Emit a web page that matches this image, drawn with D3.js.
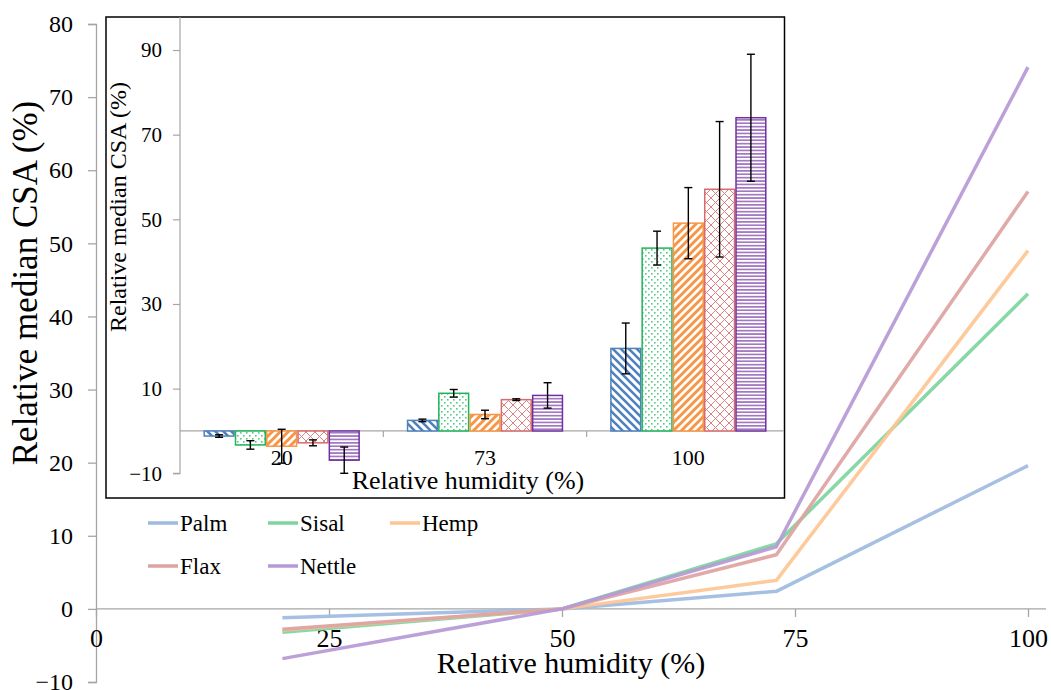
<!DOCTYPE html>
<html>
<head>
<meta charset="utf-8">
<script src="https://cdn.jsdelivr.net/npm/d3@7"></script>
</head>
<body style="margin:0;padding:0;background:#fff">
<svg id="chart" width="1051" height="690" font-family="Liberation Serif" style="display:block"></svg>
<script>
// ---------------- DATA ----------------
const seriesNames = ["Palm", "Sisal", "Hemp", "Flax", "Nettle"];

// Main line chart: relative humidity (%) vs relative median CSA (%)
const humidityLevels = [20, 50, 73, 100];
const palmLine   = [-1.2, 0, 2.4, 19.6];
const sisalLine  = [-3.2, 0, 8.9, 43.1];
const hempLine   = [-2.9, 0, 3.9, 49.0];
const flaxLine   = [-2.8, 0, 7.4, 57.1];
const nettleLine = [-6.8, 0, 8.5, 74.1];

const mainXTicks = [0, 25, 50, 75, 100];
const mainYTicks = [-10, 0, 10, 20, 30, 40, 50, 60, 70, 80];

// Inset bar chart
const insetCategories = ["20", "73", "100"];
const palmBar   = [-1.2, 2.5, 19.5];
const sisalBar  = [-3.3, 8.9, 43.2];
const hempBar   = [-3.6, 3.9, 49.1];
const flaxBar   = [-2.8, 7.4, 57.1];
const nettleBar = [-6.9, 8.4, 74.0];
const palmErr   = [0.3, 0.3, 6.0];
const sisalErr  = [1.0, 0.9, 4.0];
const hempErr   = [4.0, 1.0, 8.4];
const flaxErr   = [0.7, 0.2, 16.0];
const nettleErr = [3.1, 3.0, 15.0];
const insetYTicks = [-10, 10, 30, 50, 70, 90];

// ---------------- STYLE ----------------
const FONT = "Liberation Serif";
const lineColors = ["#9dbbdf", "#7dd4a0", "#fdc592", "#dda3a2", "#b699d6"];
const barColors  = ["#4f81bd", "#1fb45a", "#f79646", "#d96b6b", "#7030a0"];
const axisGray = "#a6a6a6";

const svg = d3.select("#chart");
function serif(sel, size) {
  return sel.attr("font-family", FONT).style("font-family", "'Liberation Serif'")
    .attr("font-size", size).style("font-size", size + "px").attr("fill", "#000");
}

// ---------------- MAIN CHART ----------------
const x = d3.scaleLinear().domain([0, 100]).range([96, 1028]);
const y = d3.scaleLinear().domain([-10, 80]).range([682, 24]);

// y axis
const yAxis = svg.append("g").attr("transform", `translate(${x(0)},0)`)
  .call(d3.axisLeft(y).tickValues(mainYTicks).tickSize(8).tickPadding(15).tickFormat(d3.format("d")));
yAxis.attr("font-family", FONT);
yAxis.select(".domain").attr("stroke", axisGray).attr("stroke-width", 1.3);
yAxis.selectAll(".tick line").attr("stroke", axisGray).attr("stroke-width", 1.3);
serif(yAxis.selectAll(".tick text"), 24);

// x axis at zero
const xAxis = svg.append("g").attr("transform", `translate(0,${y(0)})`)
  .call(d3.axisBottom(x).tickValues(mainXTicks).tickSize(8).tickPadding(12).tickFormat(d3.format("d")));
xAxis.attr("font-family", FONT);
xAxis.select(".domain").attr("stroke", axisGray).attr("stroke-width", 1.3)
  .attr("d", `M${x(0)},0H1046`);
xAxis.selectAll(".tick line").attr("stroke", axisGray).attr("stroke-width", 1.3);
serif(xAxis.selectAll(".tick text"), 26);

// axis titles
serif(svg.append("text").attr("x", 571).attr("y", 673).attr("text-anchor", "middle"), 30)
  .text("Relative humidity (%)");
serif(svg.append("text").attr("transform", "translate(37,283) rotate(-90)").attr("text-anchor", "middle"), 35)
  .text("Relative median CSA (%)");

// lines
const lineSeries = [palmLine, sisalLine, hempLine, flaxLine, nettleLine];
const lineGen = d3.line().x((d, i) => x(humidityLevels[i])).y(d => y(d));
svg.append("g").selectAll("path").data(lineSeries).join("path")
  .attr("d", d => lineGen(d))
  .attr("fill", "none")
  .attr("stroke", (d, i) => lineColors[i])
  .attr("stroke-width", 3.5)
  .attr("stroke-opacity", 0.92)
  .attr("stroke-linejoin", "round");

// legend
const legendPos = [[148, 523], [268, 523], [390, 523], [148, 566], [268, 566]];
const legend = svg.append("g").attr("font-family", FONT);
seriesNames.forEach((name, i) => {
  const [lx, ly] = legendPos[i];
  legend.append("line").attr("x1", lx).attr("x2", lx + 30).attr("y1", ly).attr("y2", ly)
    .attr("stroke", lineColors[i]).attr("stroke-width", 3.5);
  serif(legend.append("text").attr("x", lx + 32).attr("y", ly + 8), 23).text(name);
});

// ---------------- INSET ----------------
const defs = svg.append("defs");
// Palm: downward diagonal stripes
let p = defs.append("pattern").attr("id", "pat0").attr("patternUnits", "userSpaceOnUse")
  .attr("width", 8).attr("height", 8);
p.append("rect").attr("width", 8).attr("height", 8).attr("fill", "#fff");
p.append("path").attr("d", "M-2,-2L10,10M-2,6L2,10M6,-2L10,2").attr("stroke", barColors[0]).attr("stroke-width", 2.6);
// Sisal: dots
p = defs.append("pattern").attr("id", "pat1").attr("patternUnits", "userSpaceOnUse")
  .attr("width", 6).attr("height", 6);
p.append("rect").attr("width", 6).attr("height", 6).attr("fill", "#fff");
p.append("rect").attr("x", 0).attr("y", 0).attr("width", 1.6).attr("height", 1.6).attr("fill", barColors[1]).attr("opacity", 0.75);
p.append("rect").attr("x", 3).attr("y", 3).attr("width", 1.6).attr("height", 1.6).attr("fill", barColors[1]).attr("opacity", 0.75);
// Hemp: upward diagonal wide stripes
p = defs.append("pattern").attr("id", "pat2").attr("patternUnits", "userSpaceOnUse")
  .attr("width", 8).attr("height", 8);
p.append("rect").attr("width", 8).attr("height", 8).attr("fill", "#fff");
p.append("path").attr("d", "M-2,10L10,-2M-2,2L2,-2M6,10L10,6").attr("stroke", barColors[2]).attr("stroke-width", 3);
// Flax: diagonal crosshatch
p = defs.append("pattern").attr("id", "pat3").attr("patternUnits", "userSpaceOnUse")
  .attr("width", 9).attr("height", 9);
p.append("rect").attr("width", 9).attr("height", 9).attr("fill", "#fff");
p.append("path").attr("d", "M0,0L9,9M9,0L0,9").attr("stroke", barColors[3]).attr("stroke-width", 1).attr("opacity", 0.85);
// Nettle: horizontal lines
p = defs.append("pattern").attr("id", "pat4").attr("patternUnits", "userSpaceOnUse")
  .attr("width", 6).attr("height", 3.4);
p.append("rect").attr("width", 6).attr("height", 3.4).attr("fill", "#fff");
p.append("rect").attr("y", 0).attr("width", 6).attr("height", 1.7).attr("fill", barColors[4]).attr("opacity", 0.65);

// inset frame
svg.append("rect").attr("x", 106).attr("y", 17).attr("width", 678.5).attr("height", 481)
  .attr("fill", "#fff").attr("stroke", "#000").attr("stroke-width", 1.5);

const ix0 = d3.scaleBand().domain(insetCategories).range([180, 790]).paddingInner(0).paddingOuter(0);
const ix1 = d3.scaleBand().domain(seriesNames).range([0, ix0.bandwidth()]).paddingInner(0).paddingOuter(0.75);
const iy = d3.scaleLinear().domain([-10, 97.8]).range([473.3, 17]);

// inset y axis
const iyAxis = svg.append("g").attr("transform", "translate(180,0)")
  .call(d3.axisLeft(iy).tickValues(insetYTicks).tickSize(7).tickPadding(11).tickFormat(d3.format("d")));
iyAxis.attr("font-family", FONT);
iyAxis.select(".domain").attr("stroke", axisGray).attr("stroke-width", 1.2)
  .attr("d", `M-7,${iy(-10)}H0V${iy(97.8)}`);
iyAxis.selectAll(".tick line").attr("stroke", axisGray).attr("stroke-width", 1.2);
serif(iyAxis.selectAll(".tick text"), 21);

// inset x axis at zero
const ixg = svg.append("g");
ixg.append("line").attr("x1", 180).attr("x2", 784).attr("y1", iy(0)).attr("y2", iy(0))
  .attr("stroke", axisGray).attr("stroke-width", 1.2);
ixg.selectAll("line.sep").data(insetCategories.slice(1)).join("line").attr("class", "sep")
  .attr("x1", d => ix0(d)).attr("x2", d => ix0(d))
  .attr("y1", iy(0)).attr("y2", iy(0) + 6)
  .attr("stroke", axisGray).attr("stroke-width", 1.2);

// bars
const barSeries = [palmBar, sisalBar, hempBar, flaxBar, nettleBar];
const errSeries = [palmErr, sisalErr, hempErr, flaxErr, nettleErr];
const barData = [];
insetCategories.forEach((c, ci) => {
  seriesNames.forEach((s, si) => {
    barData.push({ cat: c, series: s, si, value: barSeries[si][ci], err: errSeries[si][ci] });
  });
});
svg.append("g").selectAll("rect").data(barData).join("rect")
  .attr("x", d => ix0(d.cat) + ix1(d.series) + 0.75)
  .attr("width", ix1.bandwidth() - 1.5)
  .attr("y", d => Math.min(iy(d.value), iy(0)))
  .attr("height", d => Math.abs(iy(d.value) - iy(0)))
  .attr("fill", d => `url(#pat${d.si})`)
  .attr("stroke", d => barColors[d.si])
  .attr("stroke-width", 1.5);

// category labels
serif(svg.append("g").attr("font-family", FONT).selectAll("text").data(insetCategories).join("text")
  .attr("x", d => ix0(d) + ix0.bandwidth() / 2)
  .attr("y", 465)
  .attr("text-anchor", "middle"), 22)
  .text(d => d);

// error bars
const eb = svg.append("g").attr("stroke", "#000").attr("stroke-width", 1.4);
barData.forEach(d => {
  const cx = ix0(d.cat) + ix1(d.series) + ix1.bandwidth() / 2;
  const y1 = iy(d.value + d.err), y2 = iy(d.value - d.err);
  eb.append("line").attr("x1", cx).attr("x2", cx).attr("y1", y1).attr("y2", y2);
  eb.append("line").attr("x1", cx - 4).attr("x2", cx + 4).attr("y1", y1).attr("y2", y1);
  eb.append("line").attr("x1", cx - 4).attr("x2", cx + 4).attr("y1", y2).attr("y2", y2);
});

// inset titles
serif(svg.append("text").attr("x", 468).attr("y", 489).attr("text-anchor", "middle"), 26)
  .text("Relative humidity (%)");
serif(svg.append("text").attr("transform", "translate(126,207) rotate(-90)").attr("text-anchor", "middle"), 24)
  .text("Relative median CSA (%)");
</script>
</body>
</html>
